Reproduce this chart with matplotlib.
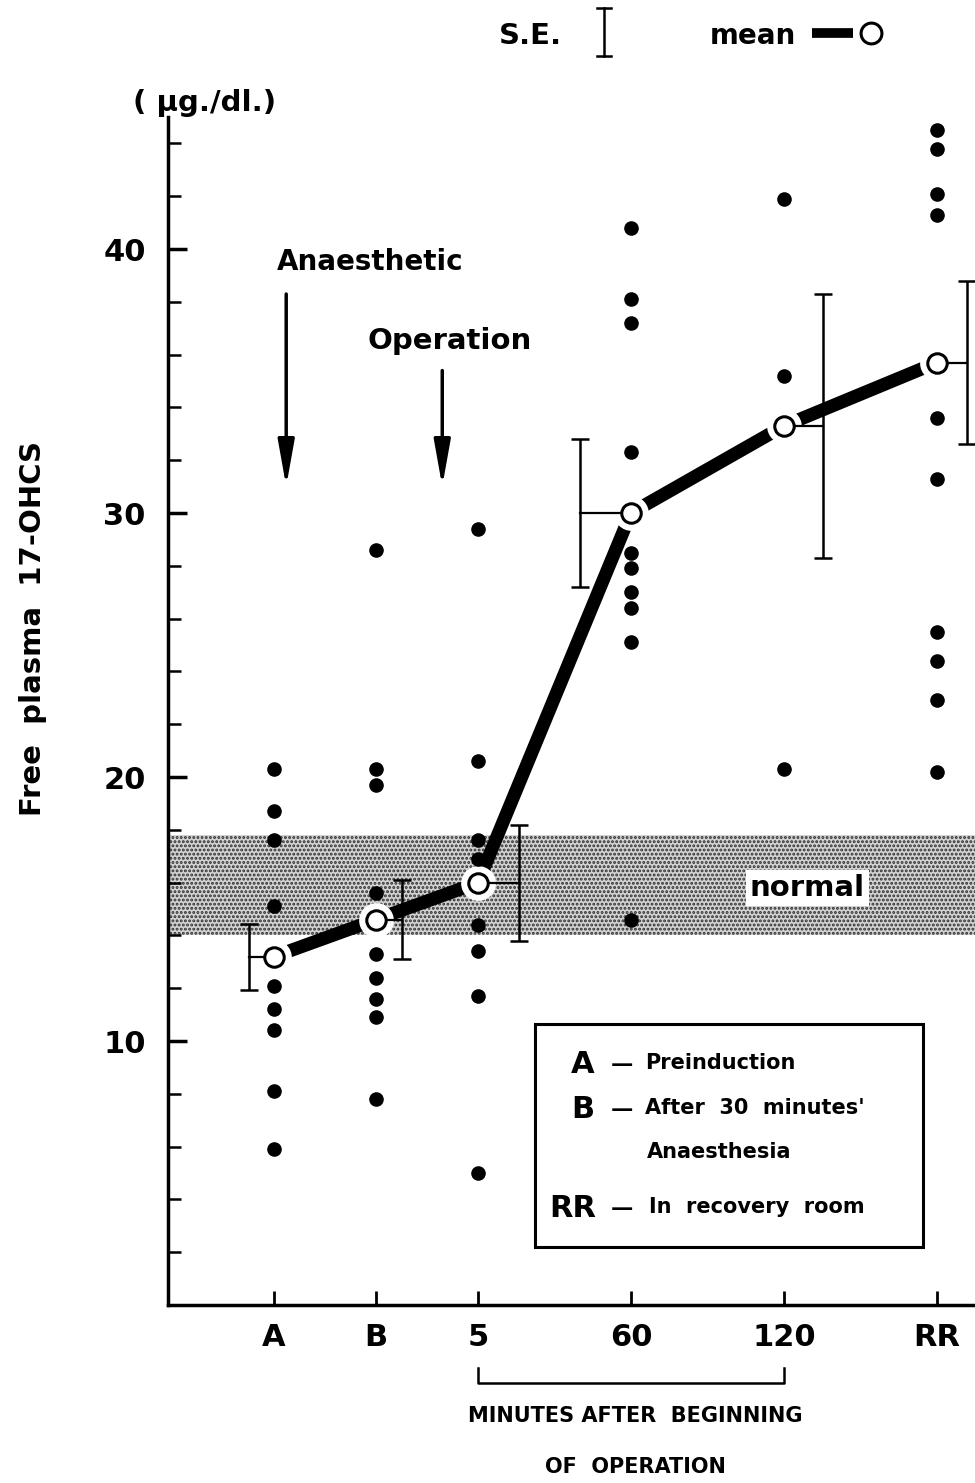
import numpy as np
import matplotlib
matplotlib.use("Agg")
import matplotlib.pyplot as plt
from matplotlib.lines import Line2D
from matplotlib.patches import Rectangle

# -------------------------
# Datos
# -------------------------
labels = ['A', 'B', '5', '60', '120', 'RR']
means = [13.2, 14.6, 16.0, 30.0, 33.3, 35.7]
se = [1.25, 1.5, 2.2, 2.8, 5.0, 3.1]

dots_A = [20.3, 18.7, 17.6, 15.1, 12.1, 11.2, 10.4, 8.1, 5.9]
dots_B = [28.6, 20.3, 19.7, 15.6, 13.3, 12.4, 11.6, 10.9, 7.8]
dots_5 = [29.4, 20.6, 17.6, 16.9, 14.4, 13.4, 11.7, 5.0]
dots_60 = [40.8, 38.1, 37.2, 32.3, 28.5, 27.9, 27.0, 26.4, 25.1, 14.6]
dots_120 = [41.9, 35.2, 20.3]
dots_RR = [44.5, 43.8, 42.1, 41.3, 33.6, 31.3, 25.5, 24.4, 22.9, 20.2]
all_dots = [dots_A, dots_B, dots_5, dots_60, dots_120, dots_RR]

normal_low, normal_high = 14.0, 17.8

# posiciones en x (espaciado desigual como en el original) y lado de la barra S.E.
xpos = np.array([0, 1, 2, 3.5, 5, 6.5])
se_offset = [-0.245, 0.255, 0.40, -0.50, 0.38, 0.29]

plt.rcParams['font.family'] = 'DejaVu Sans'
plt.rcParams['font.weight'] = 'bold'
plt.rcParams['hatch.linewidth'] = 1.4

fig = plt.figure(figsize=(9.75, 14.83), dpi=100)
ax = fig.add_axes([0.1723, 0.12, 0.8277, 0.8011])
ax.set_xlim(-1.039, 6.873)
ax.set_ylim(0, 45)

# banda normal
ax.fill_between([-1.039, 6.873], normal_low, normal_high, facecolor='#d2d2d2',
                edgecolor='#303030', hatch='....', linewidth=0, zorder=1)
ax.text(5.23, 15.8, 'normal', fontsize=21, ha='center', va='center', zorder=3,
        bbox=dict(facecolor='white', edgecolor='none', pad=3))

# línea de medias
ax.plot(xpos, means, color='black', lw=9.5, solid_capstyle='butt', zorder=4)
ax.plot(xpos, means, 'o', color='white', markersize=25, markeredgewidth=0, zorder=5)

# puntos individuales
for x, vals in zip(xpos, all_dots):
    ax.plot([x] * len(vals), vals, 'o', color='black', markersize=10.5,
            markeredgewidth=0, zorder=6)

# barras S.E.
for x, m, s, off in zip(xpos, means, se, se_offset):
    ax.errorbar(x + off, m, yerr=s, fmt='none', ecolor='black', elinewidth=1.8,
                capsize=6.5, capthick=1.8, zorder=6)
    ax.plot([x + off, x], [m, m], color='black', lw=1.6, zorder=6)

ax.plot(xpos, means, 'o', markerfacecolor='white', markeredgecolor='black',
        markersize=14, markeredgewidth=2.2, zorder=7)

# ejes
for side in ['top', 'right']:
    ax.spines[side].set_visible(False)
ax.spines['left'].set_linewidth(2.5)
ax.spines['bottom'].set_linewidth(2.5)
ax.set_yticks([10, 20, 30, 40])
ax.set_yticks(np.arange(2, 45, 2), minor=True)
ax.set_yticklabels(['10', '20', '30', '40'], fontsize=22, fontweight='bold')
ax.tick_params(axis='y', which='major', direction='in', length=14, width=2.5, pad=16)
ax.tick_params(axis='y', which='minor', direction='in', length=9, width=1.8)
ax.set_xticks(xpos)
ax.set_xticklabels(labels, fontsize=22, fontweight='bold')
ax.tick_params(axis='x', which='major', direction='in', length=10, width=2, pad=13)

# flechas
ax.annotate('', xy=(0.12, 30.9), xytext=(0.12, 38.4),
            arrowprops=dict(arrowstyle='-|>,head_length=1.4,head_width=0.25',
                            lw=2.5, color='black', mutation_scale=20))
ax.text(0.03, 39.5, 'Anaesthetic', fontsize=20, ha='left', va='center')
ax.annotate('', xy=(1.65, 30.9), xytext=(1.65, 35.5),
            arrowprops=dict(arrowstyle='-|>,head_length=1.4,head_width=0.25',
                            lw=2.5, color='black', mutation_scale=20))
ax.text(0.92, 36.5, 'Operation', fontsize=21, ha='left', va='center')

# cuadro de leyenda
ax.add_patch(Rectangle((2.56, 2.2), 3.8, 8.44, facecolor='white', edgecolor='black',
                       lw=2.2, zorder=8))
ax.text(3.03, 9.1, 'A', fontsize=22, ha='center', va='center', zorder=9)
ax.text(3.03, 7.4, 'B', fontsize=22, ha='center', va='center', zorder=9)
ax.text(2.93, 3.65, 'RR', fontsize=22, ha='center', va='center', zorder=9)
for yy in [9.1, 7.4, 3.65]:
    ax.text(3.41, yy, '\u2014', fontsize=16, ha='center', va='center', zorder=9)
ax.text(3.64, 9.15, 'Preinduction', fontsize=15, ha='left', va='center', zorder=9)
ax.text(3.64, 7.45, "After  30  minutes'", fontsize=15, ha='left', va='center', zorder=9)
ax.text(3.66, 5.8, 'Anaesthesia', fontsize=15, ha='left', va='center', zorder=9)
ax.text(3.68, 3.7, 'In  recovery  room', fontsize=15, ha='left', va='center', zorder=9)

# corchete bajo el eje x
tr = ax.get_xaxis_transform()
ax.plot([xpos[2], xpos[2], xpos[4], xpos[4]], [-0.053, -0.066, -0.066, -0.053],
        color='black', lw=1.8, transform=tr, clip_on=False)
ax.text(3.54, -0.093, 'MINUTES AFTER  BEGINNING', fontsize=15, ha='center',
        va='center', transform=tr)
ax.text(3.54, -0.136, 'OF  OPERATION', fontsize=15, ha='center', va='center',
        transform=tr)

# textos de la figura
fig.text(0.034, 0.5765, 'Free  plasma  17-OHCS', rotation=90, fontsize=21,
         ha='center', va='center')
fig.text(0.2103, 0.9305, '( \u00b5g./dl.)', fontsize=21, ha='center', va='center')
fig.text(0.5436, 0.9757, 'S.E.', fontsize=21, ha='center', va='center')
fig.text(0.772, 0.9757, 'mean', fontsize=20, ha='center', va='center')

# símbolos de la leyenda superior
fh = 1483.0
fw = 975.0
fig.add_artist(Line2D([604 / fw, 604 / fw], [1 - 8 / fh, 1 - 56 / fh], color='black', lw=1.8))
fig.add_artist(Line2D([597 / fw, 611 / fw], [1 - 8 / fh, 1 - 8 / fh], color='black', lw=1.8))
fig.add_artist(Line2D([597 / fw, 611 / fw], [1 - 56 / fh, 1 - 56 / fh], color='black', lw=1.8))
fig.add_artist(Line2D([812 / fw, 853 / fw], [1 - 33 / fh, 1 - 33 / fh], color='black', lw=7,
                      solid_capstyle='butt'))
fig.add_artist(Line2D([871 / fw], [1 - 33 / fh], marker='o', markersize=15,
                      markerfacecolor='white', markeredgecolor='black', markeredgewidth=2.2))

fig.savefig('out.png', dpi=100)
